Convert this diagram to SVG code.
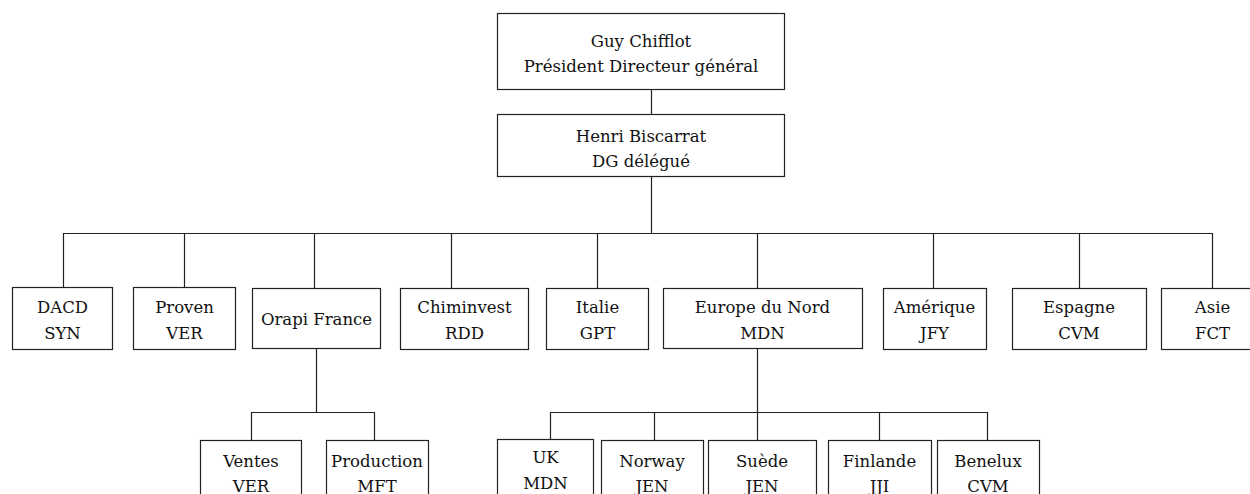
<svg xmlns="http://www.w3.org/2000/svg" width="1250" height="494" viewBox="0 0 1250 494">
<style>
rect{fill:#fff;stroke:#222;stroke-width:1.2}
text{font-family:'DejaVu Serif','Liberation Serif',serif;font-size:16.5px;fill:#111;text-anchor:middle}
#connectors path{fill:none;stroke:#222;stroke-width:1.2}
</style>
<rect x="0" y="0" width="1250" height="494" style="stroke:none"/>
<g id="connectors">
<path d="M651.5 89V114M651.5 176V233.5M63 233.5H1213M63.5 233V287M184.5 233V287M314.5 233V288M451.5 233V288M597.5 233V288M757.5 233V288M933.5 233V288M1079.5 233V288M1212.5 233V288"/>
<path d="M316.5 348V412.5M251 412.5H375M251.5 412V440M374.5 412V440"/>
<path d="M757.5 348V440M550 412.5H988M550.5 412V439M654.5 412V440M879.5 412V440M987.5 412V440"/>
</g>
<g id="n-chifflot"><rect x="497.5" y="13.5" width="287" height="76"/><text x="641" y="47">Guy Chifflot</text><text x="641" y="72">Président Directeur général</text></g>
<g id="n-biscarrat"><rect x="497.5" y="114.5" width="287" height="62"/><text x="641" y="142">Henri Biscarrat</text><text x="641" y="167">DG délégué</text></g>
<g id="n-dacd"><rect x="12.5" y="287.5" width="100" height="62"/><text x="62.5" y="313">DACD</text><text x="62.5" y="339">SYN</text></g>
<g id="n-proven"><rect x="133.5" y="287.5" width="102" height="62"/><text x="184.5" y="313">Proven</text><text x="184.5" y="339">VER</text></g>
<g id="n-orapi"><rect x="252.5" y="288.5" width="128" height="60"/><text x="316.5" y="325">Orapi France</text></g>
<g id="n-chiminvest"><rect x="400.5" y="288.5" width="128" height="61"/><text x="464.5" y="313">Chiminvest</text><text x="464.5" y="339">RDD</text></g>
<g id="n-italie"><rect x="546.5" y="288.5" width="102" height="61"/><text x="597.5" y="313">Italie</text><text x="597.5" y="339">GPT</text></g>
<g id="n-europe"><rect x="663.5" y="288.5" width="199" height="60"/><text x="762.5" y="313">Europe du Nord</text><text x="762.5" y="339">MDN</text></g>
<g id="n-amerique"><rect x="883.5" y="288.5" width="103" height="61"/><text x="934.5" y="313">Amérique</text><text x="934.5" y="339">JFY</text></g>
<g id="n-espagne"><rect x="1012.5" y="288.5" width="134" height="61"/><text x="1079" y="313">Espagne</text><text x="1079" y="339">CVM</text></g>
<g id="n-asie"><rect x="1161.5" y="288.5" width="100" height="61"/><text x="1212.5" y="313">Asie</text><text x="1212.5" y="339">FCT</text></g>
<g id="n-ventes"><rect x="200.5" y="440.5" width="101" height="70"/><text x="251" y="467">Ventes</text><text x="251" y="492">VER</text></g>
<g id="n-production"><rect x="326.5" y="440.5" width="102" height="70"/><text x="377" y="467">Production</text><text x="377" y="492">MFT</text></g>
<g id="n-uk"><rect x="497.5" y="439.5" width="96" height="70"/><text x="545.5" y="463">UK</text><text x="545.5" y="489">MDN</text></g>
<g id="n-norway"><rect x="601.5" y="440.5" width="102" height="70"/><text x="652" y="467">Norway</text><text x="652" y="492">JEN</text></g>
<g id="n-suede"><rect x="708.5" y="440.5" width="108" height="70"/><text x="762" y="467">Suède</text><text x="762" y="492">JEN</text></g>
<g id="n-finlande"><rect x="828.5" y="440.5" width="103" height="70"/><text x="879.5" y="467">Finlande</text><text x="879.5" y="492">JJI</text></g>
<g id="n-benelux"><rect x="937.5" y="440.5" width="102" height="70"/><text x="988" y="467">Benelux</text><text x="988" y="492">CVM</text></g>
</svg>
